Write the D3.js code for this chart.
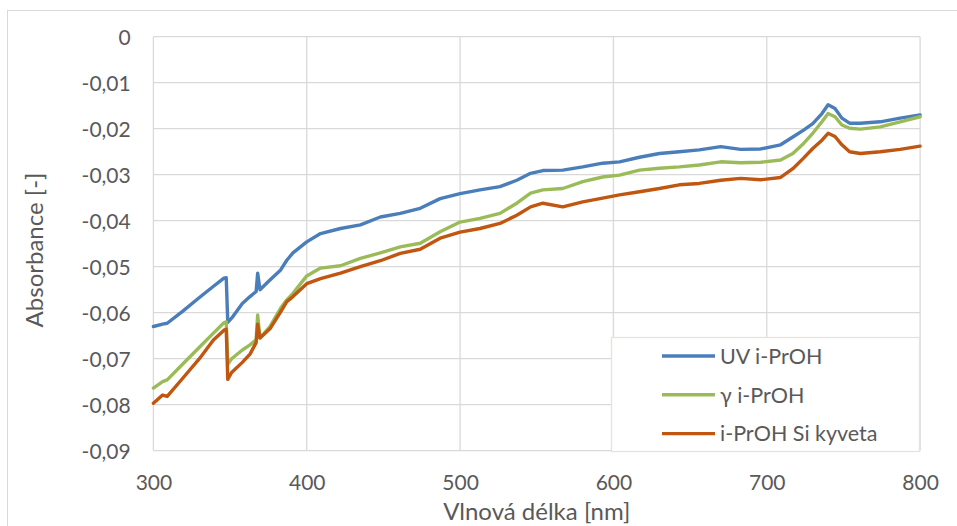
<!DOCTYPE html>
<html>
<head>
<meta charset="utf-8">
<script src="https://cdn.jsdelivr.net/npm/d3@7"></script>
<style>
  body { margin: 0; background: #fff; }
  svg text { font-family: Lato, "Open Sans", sans-serif; fill: #595959; }
</style>
</head>
<body>
<svg id="chart" width="957" height="526"></svg>
<script>
// wavelengths [nm]
var wavelengths = [300, 306, 309, 319, 330, 339, 346, 347.5, 348.5, 351, 358, 363, 367, 368, 369.5,
  376, 383, 387, 391, 400, 409, 422, 435, 448, 461, 474, 487, 500, 513, 526, 537, 546, 554,
  567, 580, 593, 604, 617, 630, 643, 656, 670, 683, 696, 709, 717, 724, 730, 736, 740, 744.5,
  749, 754, 761, 774, 787, 800];

var uvIPrOH = [-0.0630, -0.0625, -0.0623, -0.0597, -0.0567, -0.0543, -0.0525, -0.0524, -0.0621, -0.0612,
  -0.0580, -0.0565, -0.0554, -0.0514, -0.0550, -0.0529, -0.0507, -0.0486, -0.0470, -0.0446,
  -0.0428, -0.0417, -0.0409, -0.0392, -0.0384, -0.0373, -0.0352, -0.0341, -0.0333, -0.0326,
  -0.0312, -0.0297, -0.0291, -0.0290, -0.0283, -0.0275, -0.0272, -0.0262, -0.0254, -0.0250,
  -0.0246, -0.0239, -0.0245, -0.0244, -0.0235, -0.0218, -0.0203, -0.0189, -0.0167, -0.0148,
  -0.0156, -0.0177, -0.0188, -0.0188, -0.0185, -0.0177, -0.0170];

var gammaIPrOH = [-0.0764, -0.0750, -0.0746, -0.0712, -0.0675, -0.0645, -0.0622, -0.0620, -0.0712, -0.0700,
  -0.0681, -0.0670, -0.0659, -0.0605, -0.0655, -0.0630, -0.0590, -0.0572, -0.0558, -0.0520,
  -0.0503, -0.0498, -0.0482, -0.0470, -0.0457, -0.0449, -0.0424, -0.0403, -0.0395, -0.0384,
  -0.0362, -0.0340, -0.0333, -0.0330, -0.0315, -0.0305, -0.0301, -0.0290, -0.0286, -0.0283,
  -0.0279, -0.0272, -0.0274, -0.0273, -0.0268, -0.0254, -0.0232, -0.0210, -0.0185, -0.0167,
  -0.0174, -0.0192, -0.0199, -0.0201, -0.0196, -0.0185, -0.0174];

var siKyveta = [-0.0797, -0.0779, -0.0782, -0.0743, -0.0700, -0.0660, -0.0638, -0.0636, -0.0745, -0.0730,
  -0.0708, -0.0690, -0.0665, -0.0625, -0.0655, -0.0635, -0.0598, -0.0576, -0.0565, -0.0537,
  -0.0526, -0.0514, -0.0500, -0.0487, -0.0471, -0.0462, -0.0438, -0.0425, -0.0417, -0.0406,
  -0.0388, -0.0370, -0.0362, -0.0370, -0.0359, -0.0351, -0.0344, -0.0337, -0.0330, -0.0322,
  -0.0319, -0.0312, -0.0308, -0.0311, -0.0306, -0.0287, -0.0264, -0.0243, -0.0225, -0.0210,
  -0.0217, -0.0235, -0.0250, -0.0254, -0.0250, -0.0245, -0.0238];

var seriesNames = ["UV i-PrOH", "γ i-PrOH", "i-PrOH Si kyveta"];
var seriesColors = ["#4a7ebb", "#9bbb59", "#c0560f"];
var xTicks = [300, 400, 500, 600, 700, 800];
var yTicks = [0, -0.01, -0.02, -0.03, -0.04, -0.05, -0.06, -0.07, -0.08, -0.09];

var margin = {left: 153.4, top: 36.7};
var width = 766.7, height = 414;

var locale = d3.formatLocale({decimal: ",", thousands: " ", grouping: [3], currency: ["", ""], minus: "-"});
var fmt = locale.format(".2f");

var svg = d3.select('#chart');

// outer chart border (runs off the right and bottom edge)
svg.append('rect')
   .attr('x', 7.5).attr('y', 10.5)
   .attr('width', 1000).attr('height', 600)
   .attr('fill', 'none').attr('stroke', '#d9d9d9').attr('stroke-width', 1);

var x = d3.scaleLinear().domain([300, 800]).range([0, width]);
var y = d3.scaleLinear().domain([-0.09, 0]).range([height, 0]);

var g = svg.append('g').attr('transform', "translate(" + margin.left + "," + margin.top + ")");

// gridlines
g.append('g').classed('ygrid', true)
 .selectAll('line').data(yTicks).enter().append('line')
 .attr('x1', 0).attr('x2', width)
 .attr('y1', function(d){ return y(d); }).attr('y2', function(d){ return y(d); })
 .attr('stroke', '#d9d9d9').attr('stroke-width', 1.3);
g.append('g').classed('xgrid', true)
 .selectAll('line').data(xTicks).enter().append('line')
 .attr('y1', 0).attr('y2', height)
 .attr('x1', function(d){ return x(d); }).attr('x2', function(d){ return x(d); })
 .attr('stroke', '#d9d9d9').attr('stroke-width', 1.3);

// axes (labels only)
var xax = g.append('g').classed('xaxis-group', true)
 .attr('transform', "translate(0," + height + ")")
 .call(d3.axisBottom(x).tickValues(xTicks).tickSize(0).tickFormat(d3.format('d')));
var yax = g.append('g').classed('yaxis-group', true)
 .call(d3.axisLeft(y).tickValues(yTicks).tickSize(0)
   .tickFormat(function(d){ return Math.abs(d) < 1e-9 ? "0" : fmt(d); }));

[xax, yax].forEach(function(a){
  a.select('.domain').remove();
  a.selectAll('text').attr('font-family', null).attr('fill', '#595959').attr('font-size', 21);
});
xax.selectAll('text').attr('y', 39.2).attr('dy', null);
yax.selectAll('text').attr('x', -22.7).attr('dy', '0.35em');

// series
var line = d3.line()
  .x(function(d){ return x(d[0]); })
  .y(function(d){ return y(d[1]); });

var allSeries = [uvIPrOH, gammaIPrOH, siKyveta];
allSeries.forEach(function(vals, i){
  var pts = wavelengths.map(function(w, j){ return [w, vals[j]]; });
  g.append('path').datum(pts)
   .attr('d', line)
   .attr('fill', 'none')
   .attr('stroke', seriesColors[i])
   .attr('stroke-width', 3.4)
   .attr('stroke-linejoin', 'round')
   .attr('stroke-linecap', 'round');
});

// legend
var lg = svg.append('g').classed('legend', true);
lg.append('rect')
  .attr('x', 611.5).attr('y', 337.5).attr('width', 308).attr('height', 114)
  .attr('fill', '#fff').attr('stroke', '#e6e4da').attr('stroke-width', 1.3);
seriesNames.forEach(function(name, i){
  var ly = 356 + i * 38.8;
  lg.append('line')
    .attr('x1', 662).attr('x2', 715).attr('y1', ly).attr('y2', ly)
    .attr('stroke', seriesColors[i]).attr('stroke-width', 3.4);
  lg.append('text')
    .attr('x', 720).attr('y', ly).attr('dy', '0.36em')
    .attr('font-size', 21.5)
    .text(name);
});

// axis titles
svg.append('text')
   .attr('transform', "translate(43,250) rotate(-90)")
   .attr('text-anchor', 'middle')
   .attr('font-size', 24)
   .text("Absorbance [-]");
svg.append('text')
   .attr('x', margin.left + width / 2).attr('y', 520)
   .attr('text-anchor', 'middle')
   .attr('font-size', 24)
   .text("Vlnová délka [nm]");
</script>
</body>
</html>
